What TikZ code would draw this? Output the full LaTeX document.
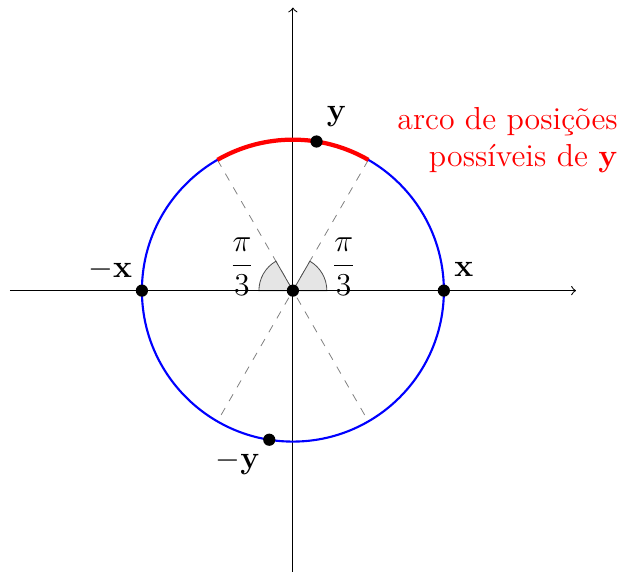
\documentclass[tikz,border=0pt]{standalone}
\usepackage{amsmath}
\begin{document}
\begin{tikzpicture}[
  axis/.style={->, line width=0.4pt},
  dot/.style={circle, fill=black, inner sep=0pt, minimum size=4.6pt},
  lbl/.style={font=\large, inner sep=0pt},
  wedge/.style={fill=gray!20, draw=black!70, line width=0.3pt},
  guide/.style={dashed, gray, line width=0.3pt}
]
\useasboundingbox (-3.88,-3.72) rectangle (4.32,3.85);
% coordinates
\coordinate (O) at (0,0);
\coordinate (xl) at (-3.75,0);
\coordinate (xr) at (3.75,0);
\coordinate (yb) at (0,-3.75);
\coordinate (yt) at (0,3.75);
\coordinate (a60) at (60:2);
\coordinate (a120) at (120:2);
\coordinate (a240) at (240:2);
\coordinate (a300) at (300:2);
% dashed guides
\draw[guide] (a120) -- (a300);
\draw[guide] (a60) -- (a240);
% angle wedges
\filldraw[wedge] (O) -- (0.45,0) arc (0:60:0.45) -- cycle;
\filldraw[wedge] (O) -- (-0.45,0) arc (180:120:0.45) -- cycle;
% axes
\draw[axis] (xl) -- (xr);
\draw[axis] (yb) -- (yt);
% circle and arc
\draw[blue, line width=0.8pt] (O) circle (2);
\draw[red, line width=1.6pt] (a60) arc (60:120:2);
% points
\node[dot] (pO) at (O) {};
\node[dot] (px) at (0:2) {};
\node[dot] (pmx) at (180:2) {};
\node[dot] (py) at (81:2) {};
\node[dot] (pmy) at (261:2) {};
% labels
\node[lbl] (lx) at (2.265,0.28) {$\mathbf{x}$};
\node[lbl] (lmx) at (-2.42,0.28) {$-\mathbf{x}$};
\node[lbl] (ly) at (0.58,2.30) {$\mathbf{y}$};
\node[lbl] (lmy) at (-0.73,-2.28) {$-\mathbf{y}$};
\node[lbl, anchor=west] (fr) at (0.50,0.32) {$\displaystyle\frac{\pi}{3}$};
\node[lbl, anchor=east] (fl) at (-0.50,0.32) {$\displaystyle\frac{\pi}{3}$};
\node[lbl, text=red, align=right, anchor=east] (txt) at (4.31,1.99)
  {arco de posições\\possíveis de $\mathbf{y}$};
\end{tikzpicture}
\end{document}
